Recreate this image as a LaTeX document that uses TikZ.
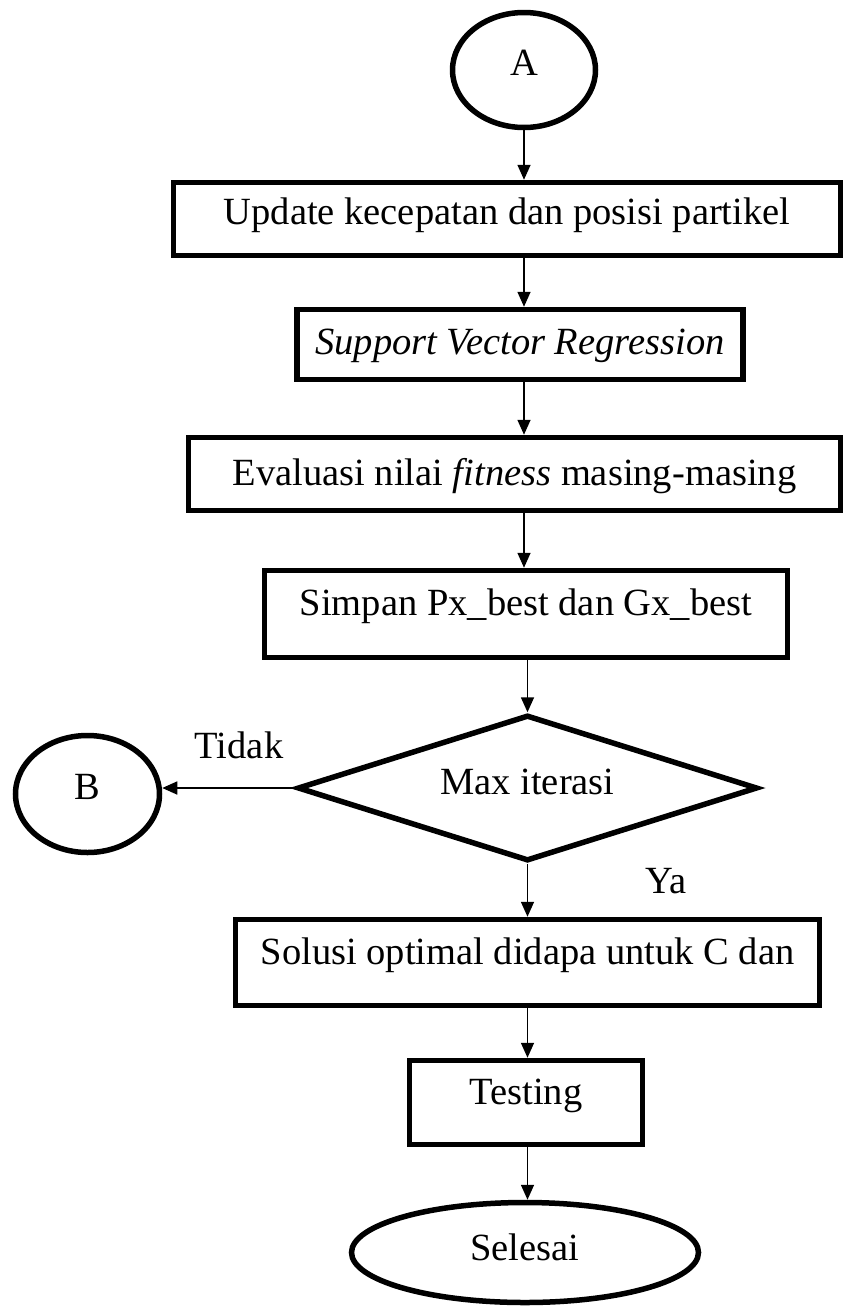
\documentclass[tikz,border=0pt]{standalone}
\usepackage{fontspec}
\setmainfont{Liberation Serif}
\usetikzlibrary{arrows.meta,shapes.geometric}
\tikzset{
  every node/.style={font=\fontsize{38.5}{45}\selectfont, inner sep=0pt, text height=27pt},
  box/.style={draw, line width=5.5pt, rectangle},
  term/.style={draw, line width=5.5pt, ellipse},
  cond/.style={draw, line width=5.5pt, diamond, aspect=3.15},
  flow/.style={line width=1.6pt, -{Triangle[length=15pt,width=13pt]}},
}
\begin{document}
\begin{tikzpicture}[x=1pt,y=-1pt]
\useasboundingbox (0,0) rectangle (846,1307);
\node[term, minimum width=143pt, minimum height=115pt, text depth=16pt] (a) at (524,70) {A};
\node[box, minimum width=667pt, minimum height=73pt, text depth=16pt] (upd) at (507,219) {Update kecepatan dan posisi partikel};
\node[box, minimum width=446pt, minimum height=70pt, text depth=7pt] (svr) at (520,344.5) {\textit{Support Vector Regression}};
\node[box, minimum width=652pt, minimum height=73pt, text depth=4pt] (eval) at (514.5,474) {Evaluasi nilai \textit{fitness} masing-masing};
\node[box, minimum width=523pt, minimum height=87pt, text depth=24pt] (simpan) at (526,614) {Simpan Px\_best dan Gx\_best};
\node[cond, minimum width=460pt, minimum height=146pt, text depth=14pt] (iter) at (527.5,788) {Max iterasi};
\node[term, minimum width=144pt, minimum height=117pt, text depth=16pt] (b) at (87.5,794) {B};
\node[box, minimum width=584pt, minimum height=86pt, text depth=23pt] (solusi) at (527.5,962.5) {Solusi optimal didapa untuk C dan};
\node[box, minimum width=233pt, minimum height=84pt, text depth=23pt] (test) at (526,1102.5) {Testing};
\node[term, minimum width=347pt, minimum height=100pt, text depth=11pt] (selesai) at (525,1252.5) {Selesai};
\node (tidak) at (239,745) {Tidak};
\node (ya) at (666,880) {Ya};
% arrows
\draw[flow] (a.south) -- (upd.north -| a);
\draw[flow] (upd.south -| a) -- (svr.north -| a);
\draw[flow] (svr.south -| a) -- (eval.north -| a);
\draw[flow] (eval.south -| a) -- (simpan.north -| a);
\draw[flow] (simpan.south -| iter) -- (iter.north);
\draw[flow] (iter.west) -- (iter.west -| b.east);
\draw[flow] (iter.south) -- (solusi.north -| iter);
\draw[flow] (solusi.south -| iter) -- (test.north -| iter);
\draw[flow] (test.south -| iter) -- (selesai.north -| iter);
\end{tikzpicture}
\end{document}
